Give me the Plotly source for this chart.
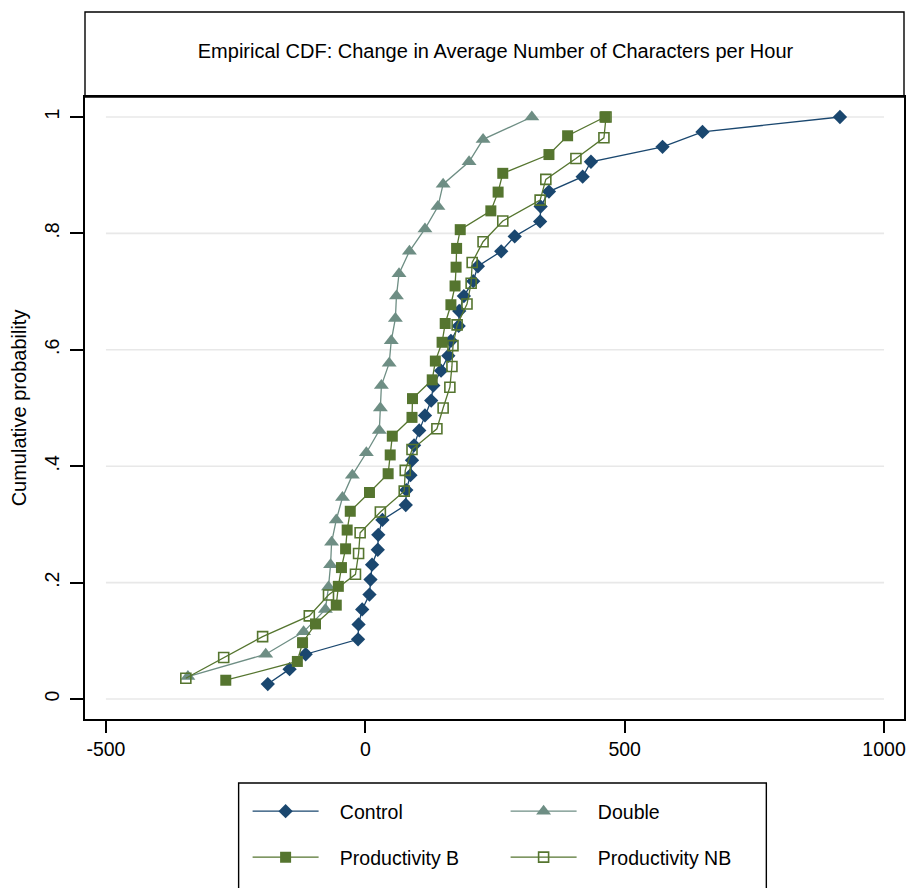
import numpy as np
import plotly.graph_objects as go

# ---------------- data ----------------
series_names = ["Control", "Double", "Productivity B", "Productivity NB"]

control = [-188, -146, -115, -14, -13, -6, 8, 10, 13, 24, 25, 33, 78, 79, 87, 90,
           94, 104, 115, 127, 131, 146, 160, 165, 180, 181, 190, 208, 217, 262,
           288, 337, 338, 354, 419, 435, 573, 650, 915]

double = [-342, -192, -119, -77, -71, -67, -65, -56, -44, -25, 2, 27, 29, 31,
          46, 50, 58, 60, 65, 85, 115, 140, 150, 200, 227, 321]

prod_b = [-269, -131, -121, -96, -56, -52, -46, -38, -35, -29, 8, 44, 48, 52,
          90, 91, 129, 135, 148, 154, 165, 173, 175, 176, 183, 242, 256, 265,
          354, 390, 462]

prod_nb = [-346, -273, -198, -108, -71, -19, -13, -10, 29, 75, 77, 90, 138, 150,
           163, 167, 169, 177, 196, 204, 206, 227, 265, 337, 348, 406, 460, 464]

x_tickvals = [-500, 0, 500, 1000]
x_ticktext = ["-500", "0", "500", "1000"]
y_tickvals = [0, 0.2, 0.4, 0.6, 0.8, 1]
y_ticktext = ["0", ".2", ".4", ".6", ".8", "1"]

title_text = "Empirical CDF: Change in Average Number of Characters per Hour"
y_title = "Cumulative probability"

# ---------------- styles ----------------
NAVY = "#1a476f"
TEAL = "#6e8e84"
GREEN = "#55752f"
styles = {
    "Control": dict(color=NAVY, symbol="diamond", size=11, legend="legend"),
    "Double": dict(color=TEAL, symbol="triangle-up", size=13, legend="legend"),
    "Productivity B": dict(color=GREEN, symbol="square", size=11, legend="legend2"),
    "Productivity NB": dict(color=GREEN, symbol="square-open", size=10, legend="legend2"),
}
FONT = "Liberation Sans, Arial, sans-serif"
PAD = "\u00a0\u00a0\u00a0"  # gap between legend key and label


def ecdf(values):
    v = np.sort(np.asarray(values, dtype=float))
    p = np.arange(1, len(v) + 1) / len(v)
    return v, p


fig = go.Figure()
for name, vals in zip(series_names, [control, double, prod_b, prod_nb]):
    st = styles[name]
    xs, ps = ecdf(vals)
    fig.add_trace(go.Scatter(
        x=xs, y=ps, mode="lines+markers", name=PAD + name,
        line=dict(color=st["color"], width=1.3),
        marker=dict(symbol=st["symbol"], size=st["size"], color=st["color"],
                    line=dict(color=st["color"], width=1.6 if "open" in st["symbol"] else 0)),
        legend=st["legend"],
    ))

# geometry (pixels)
W, H = 910, 888
L, R, T, B = 85, 906, 97, 719
plot_w, plot_h = R - L, B - T
x_lo, x_hi = x_tickvals[0], x_tickvals[-1]
px_per_x = 780 / (x_hi - x_lo)
px_per_y = 582.0
x_range = [x_lo - 21 / px_per_x, x_hi + 20 / px_per_x]
y_range = [y_tickvals[0] - 20 / px_per_y, y_tickvals[-1] + 20 / px_per_y]


def py(pix):  # pixel y -> paper y
    return (B - pix) / plot_h


def pxp(pix):  # pixel x -> paper x
    return (pix - L) / plot_w


shapes = []
# gridlines spanning the tick range
for yv in y_tickvals:
    shapes.append(dict(type="line", xref="x", yref="y", x0=x_lo, x1=x_hi, y0=yv, y1=yv,
                       line=dict(color="#e8e8e8", width=1.6), layer="below"))
# title box
shapes.append(dict(type="rect", xref="paper", yref="paper", x0=0, x1=1, y0=1, y1=py(12),
                   line=dict(color="black", width=1.4)))
# legend box
shapes.append(dict(type="rect", xref="paper", yref="paper", x0=pxp(239), x1=pxp(768),
                   y0=py(783), y1=py(900), line=dict(color="black", width=1.4)))

axis_font = dict(family=FONT, size=19.5, color="black")
legend_common = dict(orientation="h", xanchor="left", yanchor="top", itemwidth=66,
                     entrywidth=177, entrywidthmode="pixels", bgcolor="rgba(0,0,0,0)",
                     borderwidth=0, font=dict(family=FONT, size=19.5, color="black"),
                     traceorder="normal", itemclick=False)

fig.update_layout(
    width=W, height=H,
    margin=dict(l=L, r=W - R, t=T, b=H - B, pad=0),
    paper_bgcolor="white", plot_bgcolor="white",
    font=dict(family=FONT, color="black"),
    title=dict(text=title_text, x=(L + R) / 2 / W, xanchor="center", xref="container",
               y=1 - 51 / H, yanchor="middle", yref="container",
               font=dict(family=FONT, size=20, color="black")),
    xaxis=dict(range=x_range, tickvals=x_tickvals, ticktext=x_ticktext, ticks="outside",
               ticklen=12, tickwidth=1.5, tickcolor="black", showgrid=False, zeroline=False,
               showline=True, mirror=True, linecolor="black", linewidth=1.6,
               tickfont=axis_font, ticklabelstandoff=0),
    yaxis=dict(range=y_range, tickvals=y_tickvals, ticktext=y_ticktext, ticks="outside",
               ticklen=13, tickwidth=1.5, tickcolor="black", showgrid=False, zeroline=False,
               showline=True, mirror=True, linecolor="black", linewidth=1.6,
               tickangle=-90, tickfont=axis_font, ticklabelstandoff=3,
               title=dict(text=y_title, font=dict(family=FONT, size=20, color="black"),
                          standoff=9)),
    shapes=shapes,
    legend=dict(x=pxp(248), y=py(792), **legend_common),
    legend2=dict(x=pxp(248), y=py(838), **legend_common),
    showlegend=True,
)

fig.write_html("out.html", config={"displayModeBar": False},
               post_script="document.body.style.margin='0px';")
